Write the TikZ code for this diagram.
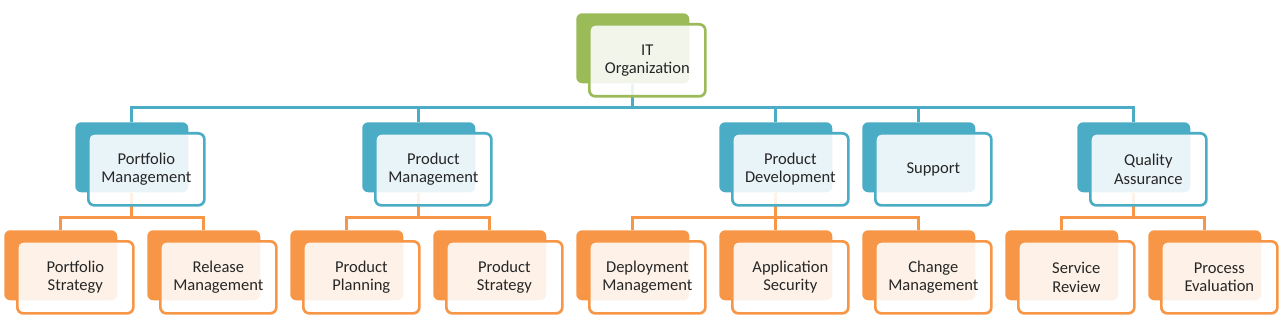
\documentclass[tikz,border=0pt]{standalone}
\usepackage{fontspec}
\setmainfont{Carlito}
\definecolor{itgreen}{HTML}{9BBB59}
\definecolor{itblue}{HTML}{4BACC6}
\definecolor{itorange}{HTML}{F79646}
\tikzset{
  backbox/.style={draw=none, fill=#1, rounded corners=4.5pt, inner sep=0pt,
    minimum width=84.75pt, minimum height=52.5pt, anchor=north west},
  frontbox/.style={draw=#1, line width=2pt, fill=white, fill opacity=0.88,
    text opacity=1, rounded corners=4.5pt, inner sep=0pt,
    minimum width=87pt, minimum height=54pt, anchor=north west,
    align=center, text=black!85, font=\fontsize{12.4}{13.6}\selectfont},
  link/.style={draw=#1, line width=2.2pt},
}
\def\boxlist{it/576/13/itgreen/{IT\\Organization},
  pfm/75/122/itblue/{Portfolio\\Management},
  prm/362/122/itblue/{Product\\Management},
  pdv/719/122/itblue/{Product\\Development},
  sup/862/122/itblue/{Support},
  qa/1077/122/itblue/{Quality\\Assurance},
  ps/4/230/itorange/{Portfolio\\Strategy},
  rm/147/230/itorange/{Release\\Management},
  pp/290/230/itorange/{Product\\Planning},
  pst/433/230/itorange/{Product\\Strategy},
  dm/576/230/itorange/{Deployment\\Management},
  as/719/230/itorange/{Application\\Security},
  cm/862/230/itorange/{Change\\Management},
  sr/1005/230/itorange/{Service\\Review},
  pe/1148/230/itorange/{Process\\Evaluation}}
\begin{document}
\begin{tikzpicture}[x=0.75pt, y=-0.75pt]
  \useasboundingbox (0,0) rectangle (1280,324);
  % back plates
  \foreach \n/\x/\y/\c/\t in \boxlist
    \node[backbox=\c] (\n-b) at (\x,\y) {};
  % top level links
  \foreach \m in {pfm,prm,pdv,sup,qa}
    \draw[link=itblue] (it-b.south) -- ++(0,24) -| (\m-b.north);
  % second level links
  \foreach \p/\m in {pfm/ps,pfm/rm,prm/pp,prm/pst,pdv/dm,pdv/as,pdv/cm,qa/sr,qa/pe}
    \draw[link=itorange] (\p-b.south) -- ++(0,25) -| (\m-b.north);
  % front boxes with labels
  \foreach \n/\x/\y/\c/\t in \boxlist
    \node[frontbox=\c] (\n) at (\x+12,\y+10) {\t};
\end{tikzpicture}
\end{document}
